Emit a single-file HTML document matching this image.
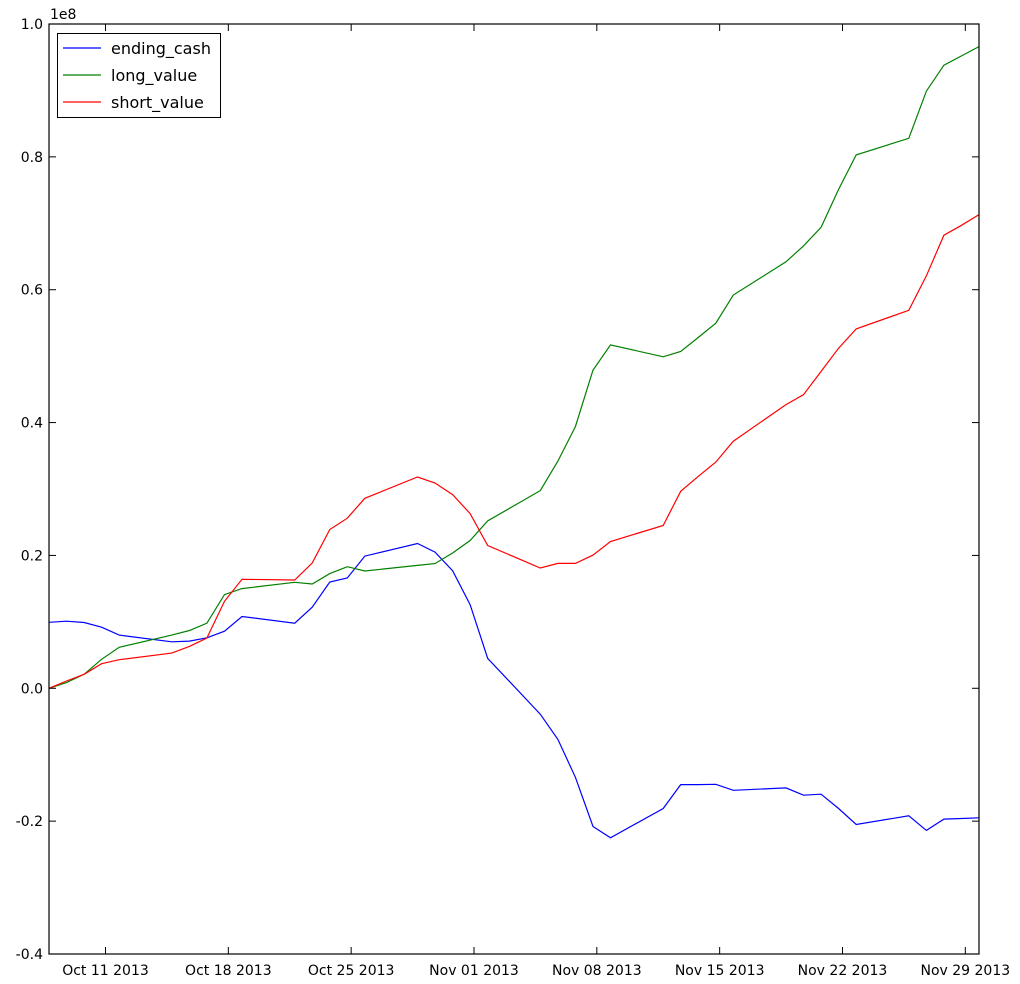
<!DOCTYPE html>
<html><head><meta charset="utf-8"><style>
body{margin:0;background:#fff;}
svg{display:block;font-family:"DejaVu Sans","Liberation Sans",sans-serif;}
</style></head><body>
<svg id="chart" width="1020" height="984"></svg>
<script>
const dayIdx=[0,1,2,3,4,7,8,9,10,11,14,15,16,17,18,21,22,23,24,25,28,29,30,31,32,35,36,37,38,39,42,43,44,45,46,49,50,51,52,53];
const endingCash=[0.0994,0.101,0.099,0.092,0.080,0.070,0.071,0.076,0.086,0.108,0.098,0.122,0.160,0.166,0.199,0.218,0.205,0.177,0.126,0.045,-0.039,-0.077,-0.134,-0.208,-0.225,-0.181,-0.145,-0.145,-0.1445,-0.1535,-0.150,-0.161,-0.1595,-0.181,-0.205,-0.192,-0.214,-0.197,-0.196,-0.195];
const longValue=[0,0.0086,0.021,0.0437,0.0617,0.080,0.087,0.098,0.141,0.150,0.1596,0.157,0.1726,0.183,0.1766,0.185,0.1877,0.2037,0.2225,0.252,0.2976,0.342,0.394,0.479,0.517,0.499,0.507,0.528,0.5496,0.592,0.642,0.666,0.694,0.751,0.803,0.828,0.899,0.938,0.952,0.966];
const shortValue=[0,0.011,0.021,0.037,0.043,0.053,0.063,0.0757,0.131,0.164,0.163,0.1886,0.239,0.256,0.286,0.318,0.309,0.2916,0.263,0.215,0.181,0.188,0.188,0.2005,0.221,0.245,0.2965,0.319,0.3405,0.372,0.427,0.442,0.477,0.512,0.541,0.569,0.621,0.682,0.697,0.713];
const xTickLabels=["Oct 11 2013","Oct 18 2013","Oct 25 2013","Nov 01 2013","Nov 08 2013","Nov 15 2013","Nov 22 2013","Nov 29 2013"];
const xTickDays=[3.22,10.22,17.22,24.22,31.22,38.22,45.22,52.22];
const yTicks=[-0.4,-0.2,0.0,0.2,0.4,0.6,0.8,1.0];
const yTickLabels=["-0.4","-0.2","0.0","0.2","0.4","0.6","0.8","1.0"];

const L=49,R=979,T=24,B=954;
const xMin=0,xMax=53,yMin=-0.4,yMax=1.0;
const X=d=>L+(d-xMin)/(xMax-xMin)*(R-L);
const Y=v=>B-(v-yMin)/(yMax-yMin)*(B-T);
const svg=document.getElementById('chart');
const NS='http://www.w3.org/2000/svg';
function mk(tag,attrs,parent){const e=document.createElementNS(NS,tag);for(const k in attrs)e.setAttribute(k,attrs[k]);(parent||svg).appendChild(e);return e;}

const series=[["ending-cash-line",endingCash,"#0000ff"],["long-value-line",longValue,"#008000"],["short-value-line",shortValue,"#ff0000"]];
series.forEach(s=>{
  const p=mk('polyline',{points:dayIdx.map((d,i)=>X(d).toFixed(1)+','+Y(s[1][i]).toFixed(1)).join(' '),fill:'none',stroke:s[2],'stroke-width':1.2});
  
  
});

const frame=mk('rect',{x:L,y:T,width:R-L,height:B-T,fill:'none',stroke:'#000','stroke-width':1.2});



xTickDays.forEach((d,i)=>{
  const x=X(d);
  mk('line',{x1:x,y1:B,x2:x,y2:B-7,stroke:'#000'});
  mk('line',{x1:x,y1:T,x2:x,y2:T+7,stroke:'#000'});
  const t=mk('text',{x:x,y:B+21,'text-anchor':'middle','font-size':14});
  t.textContent=xTickLabels[i];
  
  
});
yTicks.forEach((v,i)=>{
  const y=Y(v);
  mk('line',{x1:L,y1:y,x2:L+7,y2:y,stroke:'#000'});
  mk('line',{x1:R,y1:y,x2:R-7,y2:y,stroke:'#000'});
  const t=mk('text',{x:L-6,y:y+5,'text-anchor':'end','font-size':14});
  t.textContent=yTickLabels[i];
  
  
});
const off=mk('text',{x:L+1,y:T-5,'font-size':14});
off.textContent='1e8';



const lg=mk('g',{});


mk('rect',{x:57.5,y:33.5,width:163,height:84,fill:'#fff',stroke:'#000','stroke-width':1},lg);
const names=["ending_cash","long_value","short_value"];
series.forEach((s,i)=>{
  const y=48+i*27;
  mk('line',{x1:63,y1:y,x2:101,y2:y,stroke:s[2],'stroke-width':1.2},lg);
  const t=mk('text',{x:111,y:y+6,'font-size':16},lg);
  t.textContent=names[i];
  
  
});
</script>
</body></html>
